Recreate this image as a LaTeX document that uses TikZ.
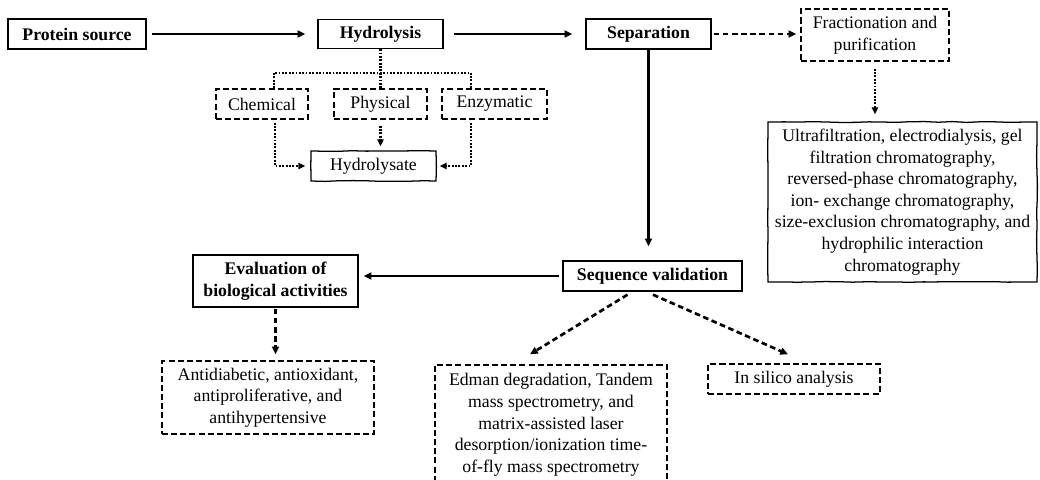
\documentclass[tikz,border=0pt]{standalone}
\usepackage{fontspec}
\setmainfont{Liberation Serif}
\usetikzlibrary{calc,arrows.meta,decorations.pathmorphing}
\begin{document}
\begin{tikzpicture}[x=0.025cm,y=-0.025cm,
  font=\fontsize{12.6}{15.4}\selectfont,
  wh/.style 2 args={minimum width=#1*0.025cm, minimum height=#2*0.025cm},
  box/.style={draw, line width=1pt, inner sep=0pt, align=center},
  bf/.style={font=\fontsize{12.6}{15.4}\selectfont\bfseries},
  dbox/.style={box, dash pattern=on 4.3pt off 2.2pt},
  sketch/.style={box, line width=0.9pt, decorate, decoration={random steps, segment length=10pt, amplitude=0.3pt}},
  arr/.style={-{Triangle[length=5.5pt,width=5pt]}, line width=1.9pt},
  darr/.style={arr, dash pattern=on 4pt off 2.5pt},
  dot/.style={line width=1.5pt, dash pattern=on 1.3pt off 1.1pt},
  dotarr/.style={dot, -{Triangle[length=5pt,width=4.5pt]}}]
\useasboundingbox (0,0) rectangle (1040,480);
\clip (0,0) rectangle (1040,480);
\pgfmathsetseed{7}
% nodes
\node[box,bf,wh={138}{30}] (src) at (77,34) {Protein source};
\node[box,bf,wh={125}{29}] (hyd) at (380.5,34) {Hydrolysis};
\node[box,bf,wh={125}{30}] (sep) at (648.5,34) {Separation};
\node[dbox,wh={148}{52}] (frac) at (875,35) {Fractionation and\\purification};
\node[sketch,wh={269}{160}] (meth) at (902.5,202) {Ultrafiltration, electrodialysis, gel\\filtration chromatography,\\reversed-phase chromatography,\\ion- exchange chromatography,\\size-exclusion chromatography, and\\hydrophilic interaction\\chromatography};
\node[dbox,wh={92}{30}] (chem) at (262,104) {Chemical};
\node[dbox,wh={93}{30}] (phys) at (380.5,104) {Physical};
\node[dbox,wh={105}{30}] (enz) at (494.5,104) {Enzymatic};
\node[sketch,wh={125}{30}] (hlys) at (373.5,166) {Hydrolysate};
\node[box,bf,wh={179}{30}] (seqv) at (652.5,276) {Sequence validation};
\node[box,bf,wh={165}{52}] (eval) at (275.5,281) {Evaluation of\\biological activities};
\node[dbox,wh={212}{73}] (anti) at (268,397.5) {Antidiabetic, antioxidant,\\antiproliferative, and\\antihypertensive};
\node[dbox,wh={232}{120}] (edman) at (551,425) {Edman degradation, Tandem\\mass spectrometry, and\\matrix-assisted laser\\desorption/ionization time-\\of-fly mass spectrometry};
\node[dbox,wh={172}{30}] (insil) at (794,379) {In silico analysis};
% main flow
\draw[arr, shorten <=0.125cm, shorten >=0.3cm] (src) -- (hyd);
\draw[arr, shorten <=0.25cm, shorten >=0.325cm] (hyd) -- (sep);
\draw[darr] ($(sep.east)+(2,0)$) -- ($(sep.east -| frac.west)+(-4,0)$);
\draw[dotarr] ($(frac.south)+(0,7)$) -- ($(frac.south |- meth.north)+(0,-7)$);
\draw[arr] (sep.south) -- ($(sep.south |- seqv.north)+(0,-14)$);
\draw[arr] ($(seqv.west)+(-3,0)$) -- ($(seqv.west -| eval.east)+(5,0)$);
\draw[darr] ($(eval.south)+(0,1)$) -- ($(eval.south |- anti.north)+(0,-6)$);
\draw[darr] ($(seqv.south)+(-25,3)$) -- ($(edman.north)+(-21,-10)$);
\draw[darr] ($(seqv.south)+(0.5,3)$) -- ($(insil.north)+(-6,-9)$);
% hydrolysis tree
\coordinate (bus) at ($(hyd.south)+(0,23.5)$);
\draw[dot] (hyd.south) -- (phys.north);
\draw[dot] ($(chem.north)+(12,0)$) |- (bus) -| ($(enz.north)+(-23.5,0)$);
\draw[dotarr, shorten >=0.125cm] ($(chem.south)+(13,3)$) |- (hlys.west);
\draw[dotarr] ($(phys.south)+(0,6)$) -- ($(phys.south |- hlys.north)+(0,-4)$);
\draw[dotarr, shorten >=0.075cm] ($(enz.south)+(-23.5,3)$) |- (hlys.east);
\end{tikzpicture}
\end{document}
